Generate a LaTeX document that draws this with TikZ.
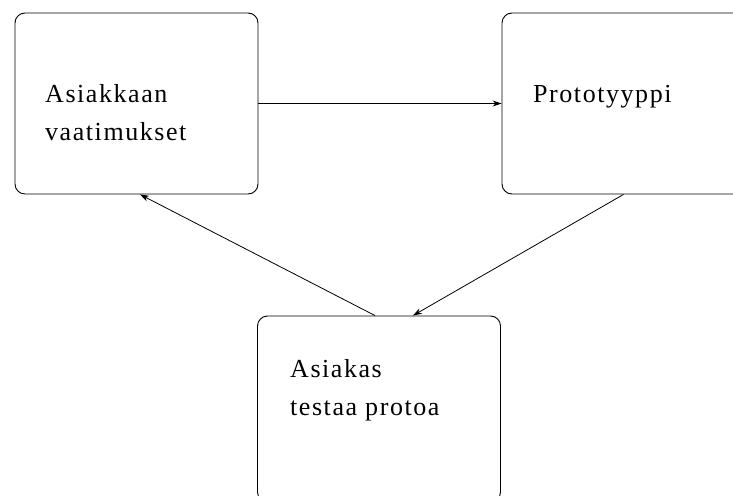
\documentclass[tikz,border=0pt]{standalone}
\usepackage{fontspec}
\setmainfont{Liberation Serif}
\usetikzlibrary{arrows.meta}
\begin{document}
\begin{tikzpicture}[x=1pt,y=-1pt,
  box/.style={draw,line width=0.9pt,rounded corners=10pt,minimum width=243pt,minimum height=181pt,inner sep=0pt},
  txt/.style={font=\fontsize{26}{38}\selectfont\addfontfeature{LetterSpace=6},align=left,inner sep=0pt,anchor=base west},
  conn/.style={line width=0.8pt,-{Stealth[length=9pt,width=6pt]}}]
\useasboundingbox (0,0) rectangle (733,495);
\clip (0,0) rectangle (733,495);
\node[box] (a) at (136.5,103.5) {};
\node[box] (b) at (623.5,103.5) {};
\node[box,minimum height=186pt] (c) at (379,409) {};
\node[txt] (ta) at (45,140) {Asiakkaan\\vaatimukset};
\node[txt] (tb) at (533,102) {Prototyyppi};
\node[txt] (tc) at (290,415) {Asiakas\\testaa protoa};
\draw[conn] (a.east) -- (b.west);
\draw[conn] (b.south) -- ([xshift=34pt]c.north);
\draw[conn] ([xshift=-4pt]c.north) -- ([xshift=3.5pt]a.south);
\end{tikzpicture}
\end{document}
